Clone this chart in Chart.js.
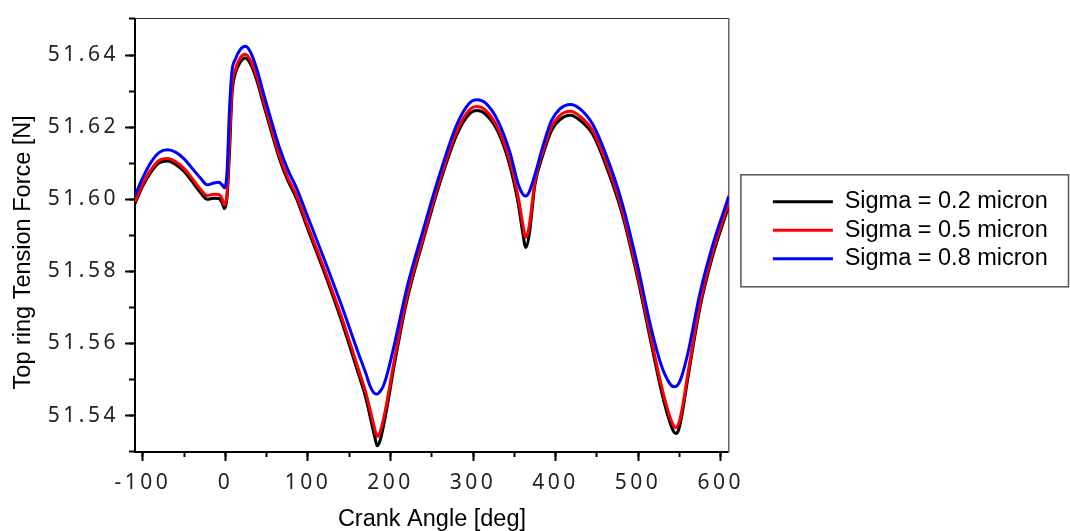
<!DOCTYPE html>
<html>
<head>
<meta charset="utf-8">
<script src="https://cdn.jsdelivr.net/npm/chart.js@4.4.1/dist/chart.umd.min.js"></script>
<style>
    body { margin:0; background:#fff; }
    #wrap { width:1070px; height:531px; position:relative; }
</style>
</head>
<body>
<div id="wrap"><canvas id="ringChart"></canvas></div>
<script>
// crank angle [deg]
const angles = [
    -109.5, -100, -90, -80, -70, -60, -50, -40, -30, -22,
    -14, -8, -4, -1, 2, 5, 8, 12, 18, 24,
    30, 38, 46, 56, 66, 76, 86, 100, 120, 140,
    160, 170, 176, 181, 184, 187, 191, 196, 205, 220,
    240, 260, 280, 295, 305, 315, 330, 345, 355, 360,
    364, 368, 375, 385, 395, 405, 418, 430, 445, 460,
    480, 500, 515, 528, 538, 543, 546, 549, 553, 560,
    575, 590, 610
];

// top ring tension force [N]
const sigma02 = [
    51.5988, 51.6037, 51.6076, 51.6101, 51.6106, 51.6096, 51.6077, 51.6048, 51.6018, 51.6000,
    51.6003, 51.6002, 51.5990, 51.5974, 51.6005, 51.6130, 51.6290, 51.6348, 51.6380, 51.6392,
    51.6377, 51.6330, 51.6265, 51.6185, 51.6109, 51.6050, 51.6003, 51.5916, 51.5796, 51.5667,
    51.5524, 51.5450, 51.5390, 51.5340, 51.5316, 51.5328, 51.5365, 51.5425, 51.5545, 51.5720,
    51.5889, 51.6046, 51.6177, 51.6235, 51.6246, 51.6236, 51.6188, 51.6090, 51.5985, 51.5910,
    51.5866, 51.5900, 51.6040, 51.6125, 51.6190, 51.6220, 51.6233, 51.6218, 51.6180, 51.6100,
    51.5965, 51.5775, 51.5610, 51.5470, 51.5385, 51.5356, 51.5350, 51.5360, 51.5400, 51.5500,
    51.5700, 51.5840, 51.5983
];

const sigma05 = [
    51.5993, 51.6042, 51.6082, 51.6108, 51.6113, 51.6104, 51.6085, 51.6057, 51.6027, 51.6010,
    51.6014, 51.6013, 51.6002, 51.5984, 51.6020, 51.6160, 51.6310, 51.6358, 51.6392, 51.6402,
    51.6387, 51.6340, 51.6275, 51.6194, 51.6117, 51.6058, 51.6011, 51.5925, 51.5806, 51.5678,
    51.5537, 51.5465, 51.5410, 51.5362, 51.5342, 51.5352, 51.5385, 51.5442, 51.5558, 51.5730,
    51.5897, 51.6055, 51.6187, 51.6246, 51.6257, 51.6247, 51.6198, 51.6102, 51.6003, 51.5935,
    51.5894, 51.5925, 51.6050, 51.6135, 51.6200, 51.6232, 51.6244, 51.6229, 51.6190, 51.6110,
    51.5975, 51.5786, 51.5622, 51.5485, 51.5400, 51.5372, 51.5367, 51.5377, 51.5415, 51.5513,
    51.5710, 51.5850, 51.5991
];

const sigma08 = [
    51.6010, 51.6060, 51.6103, 51.6130, 51.6137, 51.6130, 51.6112, 51.6085, 51.6058, 51.6040,
    51.6045, 51.6047, 51.6040, 51.6032, 51.6075, 51.6250, 51.6355, 51.6388, 51.6415, 51.6424,
    51.6410, 51.6362, 51.6295, 51.6215, 51.6140, 51.6080, 51.6032, 51.5950, 51.5832, 51.5710,
    51.5580, 51.5518, 51.5478, 51.5461, 51.5460, 51.5466, 51.5480, 51.5515, 51.5600, 51.5755,
    51.5918, 51.6072, 51.6205, 51.6265, 51.6276, 51.6267, 51.6218, 51.6128, 51.6040, 51.6015,
    51.6009, 51.6020, 51.6068, 51.6150, 51.6218, 51.6250, 51.6263, 51.6250, 51.6208, 51.6130,
    51.5995, 51.5810, 51.5650, 51.5540, 51.5490, 51.5480, 51.5481, 51.5488, 51.5510, 51.5570,
    51.5740, 51.5870, 51.6009
];

const seriesLabels = ["Sigma = 0.2 micron", "Sigma = 0.5 micron", "Sigma = 0.8 micron"];
const seriesColors = ["#000000", "#ff0000", "#0000ff"];

const xLimits = [-109.5, 610];
const yLimits = [51.5299, 51.6501];

const tickFont = { family: "'Noto Sans', sans-serif", size: 21 };
const textFont = { family: "'Liberation Sans', Arial, sans-serif", size: 23.5, lineHeight: 1 };

// linear scale with spaced-out tick digits, like the original plot
class SpacedScale extends Chart.LinearScale {
    static id = "spaced";
    drawLabels(area) {
        const ctx = this.ctx;
        ctx.save();
        ctx.letterSpacing = "3.5px";
        super.drawLabels(area);
        ctx.restore();
    }
    drawTitle() {
        const ctx = this.ctx;
        ctx.save();
        if (this.axis === "y") ctx.translate(0, 17);
        super.drawTitle();
        ctx.restore();
    }
}
Chart.register(SpacedScale);

function toPoints(values) {
    return angles.map((a, i) => ({ x: a, y: values[i] }));
}

// frame round the legend
const legendFrame = {
    id: "legendFrame",
    afterDraw(chart) {
        const lg = chart.legend;
        const hb = lg.legendHitBoxes;
        if (!hb || !hb.length) return;
        const first = hb[0], last = hb[hb.length - 1];
        const top = first.top + first.height / 2 - 27;
        const bottom = last.top + last.height / 2 + 28;
        const left = lg.left - 27;
        const right = chart.width - 1.5;
        const ctx = chart.ctx;
        ctx.save();
        ctx.strokeStyle = "#555";
        ctx.lineWidth = 1.5;
        ctx.strokeRect(left, top, right - left, bottom - top);
        ctx.restore();
    }
};

const datasets = [sigma02, sigma05, sigma08].map((vals, i) => ({
    label: seriesLabels[i],
    data: toPoints(vals),
    borderColor: seriesColors[i],
    backgroundColor: seriesColors[i],
    borderWidth: 3,
    pointRadius: 0,
    cubicInterpolationMode: "monotone",
    order: 3 - i
}));

new Chart(document.getElementById("ringChart"), {
    type: "line",
    data: { datasets: datasets },
    plugins: [legendFrame],
    options: {
        responsive: true,
        maintainAspectRatio: false,
        animation: false,
        layout: { padding: { right: 12.25 } },
        plugins: {
            tooltip: { enabled: false },
            legend: {
                position: "right",
                fullSize: false,
                align: "center",
                maxWidth: 400,
                // empty title, only used to lift the items a little
                title: { display: true, text: "", font: { size: 1, lineHeight: 1 }, padding: { top: -11, bottom: 0 } },
                labels: {
                    font: textFont,
                    color: "#000",
                    usePointStyle: true,
                    pointStyle: "line",
                    pointStyleWidth: 60,
                    padding: 5,
                    sort: (a, b) => a.datasetIndex - b.datasetIndex
                }
            }
        },
        scales: {
            x: {
                type: "spaced",
                position: "bottom",
                min: xLimits[0],
                max: xLimits[1],
                ticks: {
                    stepSize: 100,
                    includeBounds: false,
                    autoSkip: false,
                    maxRotation: 0,
                    font: tickFont,
                    color: "#222",
                    padding: 9,
                    callback: (v) => String(v)
                },
                grid: { drawOnChartArea: false, tickLength: 9, tickWidth: 2, tickColor: "#000" },
                border: { color: "#000", width: 2 },
                title: { display: true, text: "Crank Angle [deg]", font: textFont, color: "#000", padding: { top: 0, bottom: 0 } },
                afterFit: (s) => { s.height = 79; }
            },
            xMinor: {
                type: "linear",
                position: "bottom",
                weight: -1,
                min: xLimits[0],
                max: xLimits[1],
                ticks: { stepSize: 50, includeBounds: false, display: false },
                grid: { drawOnChartArea: false, tickLength: 5, tickWidth: 2, tickColor: "#000" },
                border: { display: false },
                afterFit: (s) => { s.height = 0; }
            },
            xTop: {
                type: "linear",
                position: "top",
                ticks: { display: false },
                grid: { display: false },
                border: { color: "#333", width: 1 },
                afterFit: (s) => { s.height = 14; }
            },
            y: {
                type: "spaced",
                position: "left",
                min: yLimits[0],
                max: yLimits[1],
                ticks: {
                    stepSize: 0.02,
                    includeBounds: false,
                    autoSkip: false,
                    font: tickFont,
                    color: "#222",
                    padding: 6,
                    callback: (v) => v.toFixed(2)
                },
                grid: { drawOnChartArea: false, tickLength: 10, tickWidth: 2, tickColor: "#000" },
                border: { color: "#000", width: 2 },
                title: { display: true, text: "Top ring Tension Force [N]", font: textFont, color: "#000", padding: { top: 11.7, bottom: 0 } },
                afterFit: (s) => { s.width = 135; }
            },
            yMinor: {
                type: "linear",
                position: "left",
                weight: -1,
                min: yLimits[0],
                max: yLimits[1],
                ticks: { stepSize: 0.01, includeBounds: false, display: false },
                grid: { drawOnChartArea: false, tickLength: 6, tickWidth: 2, tickColor: "#000" },
                border: { display: false },
                afterFit: (s) => { s.width = 0; }
            },
            yRight: {
                type: "linear",
                position: "right",
                ticks: { display: false },
                grid: { display: false },
                border: { color: "#666", width: 1.5 },
                afterFit: (s) => { s.width = 39; }
            }
        }
    }
});
</script>
</body>
</html>
